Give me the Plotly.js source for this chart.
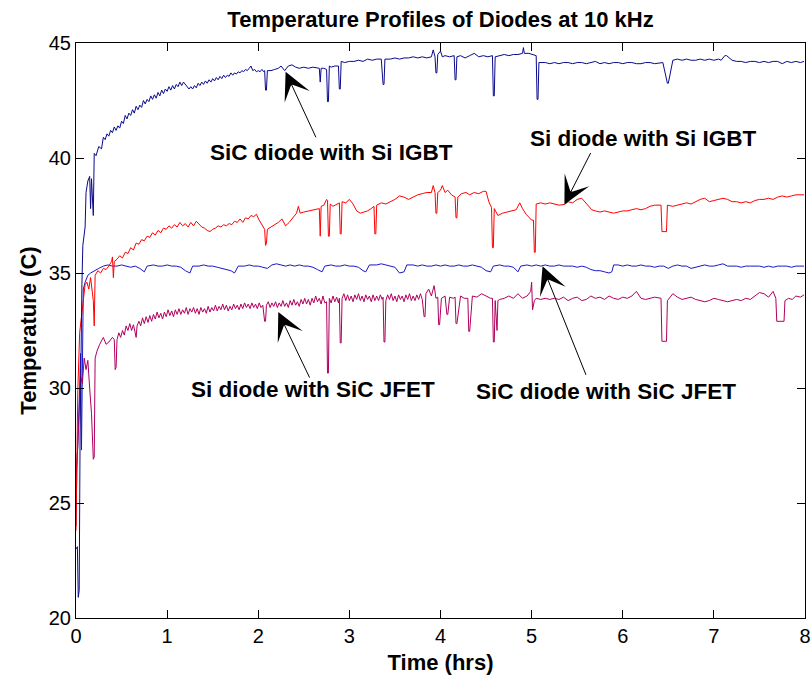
<!DOCTYPE html>
<html>
<head>
<meta charset="utf-8">
<script src="https://cdn.plot.ly/plotly-3.0.1.min.js"></script>
<style>html,body{margin:0;padding:0;background:#fff;}#chart{width:812px;height:683px;}</style>
</head>
<body>
<div id="chart"></div>
<script>
// ---- Data (time in hrs, temperature in C) ----
const sicIgbtT = [0,0.015,0.025,0.035,0.045,0.055,0.065,0.075,0.085,0.1,0.11,0.13,0.15,0.16,0.17,0.19,0.2,0.22,0.25,0.28,0.30,0.32,0.34,0.36,0.38,0.40,0.42,0.44,0.46,0.48,0.50,0.52,0.54,0.56,0.58,0.60,0.62,0.64,0.66,0.68,0.70,0.72,0.74,0.76,0.78,0.80,0.82,0.84,0.86,0.88,0.90,0.92,0.94,0.96,0.98,1.00,1.02,1.04,1.06,1.08,1.10,1.12,1.14,1.16,1.18,1.20,1.22,1.24,1.26,1.28,1.30,1.32,1.34,1.36,1.38,1.40,1.42,1.44,1.46,1.48,1.50,1.52,1.54,1.56,1.58,1.60,1.62,1.64,1.66,1.68,1.70,1.72,1.74,1.76,1.78,1.80,1.82,1.84,1.86,1.88,1.90,1.92,1.94,1.96,1.98,2.00,2.02,2.04,2.06,2.07,2.08,2.09,2.1,2.14,2.18,2.22,2.25,2.29,2.33,2.37,2.41,2.45,2.5,2.55,2.6,2.67,2.68,2.69,2.72,2.75,2.76,2.77,2.78,2.8,2.84,2.88,2.89,2.9,2.91,2.95,3.0,3.05,3.1,3.15,3.2,3.25,3.3,3.35,3.37,3.38,3.39,3.45,3.5,3.55,3.6,3.65,3.7,3.75,3.8,3.85,3.9,3.92,3.94,3.95,3.96,3.97,4.0,4.02,4.05,4.1,4.15,4.16,4.17,4.18,4.22,4.27,4.32,4.37,4.42,4.47,4.52,4.57,4.58,4.59,4.6,4.65,4.7,4.75,4.8,4.85,4.9,4.91,4.92,4.97,5.02,5.05,5.06,5.07,5.08,5.15,5.2,5.25,5.3,5.35,5.4,5.45,5.5,5.55,5.6,5.65,5.7,5.75,5.8,5.85,5.9,5.95,6.0,6.05,6.1,6.15,6.2,6.25,6.3,6.35,6.43,6.44,6.49,6.5,6.55,6.6,6.65,6.7,6.75,6.8,6.85,6.9,6.95,7.0,7.05,7.08,7.12,7.14,7.2,7.25,7.3,7.35,7.4,7.45,7.5,7.55,7.6,7.65,7.7,7.75,7.8,7.85,7.9,7.95,7.99];
const sicIgbtY = [23.0,23.1,20.9,21.2,28.0,32.0,34.5,36.2,36.6,37.0,38.5,39.0,39.2,37.8,39.1,37.5,40.2,40.1,40.5,40.4,40.9,40.8,41.05,40.95,41.2,41.1,41.35,41.2,41.4,41.3,41.6,41.5,41.85,41.7,41.95,41.85,42.1,41.95,42.25,42.1,42.3,42.2,42.5,42.35,42.55,42.45,42.7,42.55,42.75,42.6,42.85,42.7,42.95,42.8,43.0,42.9,43.1,42.95,43.15,43.0,43.2,43.1,43.3,43.15,43.3,43.2,43.1,43.0,43.1,43.0,43.15,43.05,43.25,43.15,43.3,43.2,43.35,43.25,43.4,43.3,43.45,43.35,43.5,43.4,43.55,43.45,43.6,43.5,43.6,43.55,43.7,43.6,43.7,43.65,43.75,43.7,43.8,43.75,43.85,43.8,43.9,44.0,43.8,43.85,43.75,43.8,43.75,43.85,43.75,43.8,42.95,42.95,43.8,43.8,43.85,43.9,44.0,43.8,44.0,44.05,43.95,43.9,43.95,43.9,43.95,43.9,43.3,43.9,43.9,43.85,42.45,42.45,44.0,43.95,44.0,44.0,43.0,43.0,44.2,44.15,44.2,44.2,44.25,44.2,44.3,44.25,44.3,44.3,43.2,43.2,44.3,44.3,44.35,44.3,44.35,44.35,44.4,44.35,44.4,44.35,44.4,44.7,44.4,43.7,43.7,44.5,44.65,44.4,44.45,44.4,44.45,43.4,43.4,44.4,44.45,44.35,44.45,44.55,44.4,44.45,44.4,44.45,42.7,42.7,44.4,44.45,44.5,44.45,44.5,44.5,44.55,44.8,44.55,44.55,44.5,44.45,42.55,42.55,44.15,44.15,44.1,44.15,44.1,44.15,44.15,44.1,44.15,44.15,44.1,44.15,44.2,44.1,44.15,44.1,44.15,44.15,44.1,44.15,44.15,44.1,44.1,44.15,44.15,44.1,44.15,44.15,43.25,43.25,44.25,44.3,44.25,44.3,44.25,44.25,44.3,44.25,44.3,44.25,44.3,44.25,44.45,44.45,44.25,44.2,44.2,44.15,44.2,44.2,44.15,44.2,44.15,44.2,44.2,44.1,44.2,44.15,44.2,44.15,44.2,44.2];

const siIgbtT = [0,0.01,0.02,0.04,0.06,0.08,0.1,0.12,0.14,0.16,0.19,0.2,0.21,0.24,0.27,0.3,0.33,0.36,0.39,0.4,0.41,0.42,0.45,0.48,0.51,0.54,0.57,0.60,0.63,0.66,0.69,0.72,0.75,0.78,0.81,0.84,0.87,0.90,0.93,0.96,0.99,1.02,1.05,1.08,1.11,1.14,1.17,1.20,1.23,1.26,1.29,1.32,1.35,1.38,1.41,1.44,1.47,1.50,1.53,1.56,1.59,1.62,1.65,1.68,1.71,1.74,1.77,1.80,1.83,1.86,1.89,1.92,1.95,1.98,2.01,2.04,2.07,2.08,2.09,2.1,2.14,2.18,2.22,2.26,2.3,2.34,2.38,2.42,2.44,2.46,2.5,2.55,2.6,2.67,2.68,2.69,2.72,2.75,2.76,2.77,2.78,2.79,2.82,2.86,2.89,2.9,2.91,2.92,2.96,3.0,3.04,3.08,3.12,3.16,3.2,3.24,3.27,3.28,3.29,3.3,3.35,3.4,3.45,3.5,3.55,3.6,3.65,3.7,3.75,3.8,3.85,3.9,3.92,3.94,3.95,3.96,3.97,4.0,4.02,4.05,4.08,4.12,4.16,4.17,4.18,4.19,4.23,4.28,4.32,4.37,4.42,4.47,4.5,4.53,4.56,4.57,4.58,4.59,4.63,4.68,4.73,4.78,4.83,4.87,4.9,4.94,4.98,5.0,5.02,5.03,5.04,5.05,5.1,5.15,5.2,5.25,5.3,5.36,5.4,5.45,5.5,5.55,5.58,5.62,5.66,5.7,5.75,5.8,5.85,5.9,5.95,6.0,6.05,6.1,6.15,6.2,6.25,6.3,6.35,6.42,6.43,6.48,6.49,6.55,6.6,6.65,6.7,6.75,6.8,6.85,6.9,6.95,7.0,7.05,7.1,7.15,7.2,7.25,7.3,7.35,7.4,7.45,7.5,7.55,7.6,7.65,7.7,7.75,7.8,7.85,7.9,7.99];
const siIgbtY = [23.8,26.5,29.9,32.4,33.2,34.0,34.5,34.6,34.3,34.8,33.8,32.7,34.9,35.1,35.0,35.2,35.15,35.3,35.5,35.7,34.8,35.5,35.6,35.75,35.65,35.9,35.85,36.1,36.0,36.3,36.25,36.45,36.4,36.6,36.55,36.75,36.65,36.85,36.75,36.95,36.9,37.05,36.95,37.1,37.0,37.2,37.05,37.15,37.0,37.2,37.05,37.25,37.1,37.0,36.95,36.85,36.8,36.9,36.95,37.05,37.0,37.1,37.05,37.15,37.1,37.25,37.2,37.35,37.2,37.4,37.35,37.5,37.45,37.55,37.3,37.1,36.9,36.2,36.3,36.9,37.0,37.1,37.2,37.35,37.05,37.2,37.4,37.6,37.9,37.6,37.65,37.7,37.75,37.8,36.6,37.9,37.95,38.2,38.15,36.6,36.6,38.0,37.9,38.0,38.05,36.7,36.7,38.1,38.05,38.2,38.0,37.7,37.6,37.65,37.7,37.8,37.9,36.7,36.7,37.95,38.05,38.0,38.1,38.2,38.35,38.3,38.2,38.3,38.4,38.45,38.5,38.5,38.8,38.5,37.6,37.6,38.5,38.6,38.8,38.5,38.6,38.4,38.3,37.4,37.4,38.3,38.45,38.5,38.4,38.5,38.45,38.55,38.55,38.1,37.85,36.1,36.1,37.8,37.5,37.6,37.65,37.7,37.75,38.05,37.8,37.55,37.4,37.3,37.3,35.9,35.9,38.0,38.05,38.0,38.05,38.0,37.95,37.98,38.1,38.05,38.2,38.25,38.1,37.9,37.75,37.7,37.65,37.7,37.65,37.6,37.65,37.7,37.7,37.75,37.8,37.75,37.8,37.9,37.95,37.95,36.8,36.8,37.95,37.9,37.95,38.0,38.05,38.0,38.1,38.2,38.25,38.1,38.15,38.2,38.25,38.2,38.1,38.1,38.05,38.1,38.05,38.15,38.2,38.2,38.25,38.2,38.3,38.35,38.3,38.35,38.4,38.4];

const sicJfetT = [0,0.02,0.04,0.05,0.06,0.07,0.08,0.1,0.13,0.16,0.2,0.25,0.3,0.35,0.4,0.45,0.5,0.55,0.6,0.65,0.7,0.75,0.78,0.85,0.9,0.95,1.0,1.05,1.1,1.15,1.2,1.25,1.28,1.35,1.4,1.45,1.5,1.55,1.6,1.65,1.7,1.74,1.78,1.85,1.9,1.95,2.0,2.05,2.1,2.15,2.2,2.25,2.3,2.35,2.4,2.45,2.5,2.55,2.6,2.65,2.7,2.73,2.8,2.85,2.9,2.95,3.0,3.05,3.1,3.15,3.18,3.22,3.3,3.35,3.4,3.45,3.5,3.55,3.6,3.63,3.7,3.75,3.8,3.85,3.9,3.95,4.0,4.05,4.1,4.15,4.2,4.25,4.3,4.35,4.4,4.45,4.5,4.55,4.58,4.65,4.7,4.75,4.8,4.85,4.88,4.95,5.0,5.05,5.1,5.15,5.2,5.25,5.3,5.35,5.4,5.45,5.5,5.55,5.6,5.65,5.7,5.75,5.8,5.85,5.88,5.9,5.95,6.0,6.05,6.1,6.15,6.2,6.25,6.3,6.35,6.4,6.45,6.5,6.55,6.6,6.65,6.7,6.75,6.8,6.85,6.9,6.95,7.0,7.05,7.1,7.15,7.2,7.25,7.3,7.35,7.4,7.45,7.5,7.55,7.6,7.65,7.7,7.75,7.8,7.85,7.9,7.99];
const sicJfetY = [26.0,27.5,30.0,31.5,27.3,33.0,34.3,34.6,34.9,35.0,35.1,35.2,35.3,35.35,35.3,35.3,35.35,35.3,35.25,35.3,35.2,35.05,35.3,35.35,35.3,35.3,35.35,35.3,35.3,35.25,35.1,35.0,35.3,35.3,35.35,35.3,35.3,35.25,35.2,35.15,35.1,35.0,35.3,35.3,35.35,35.3,35.3,35.25,35.2,35.35,35.4,35.35,35.3,35.35,35.3,35.35,35.3,35.3,35.25,35.15,35.05,35.3,35.35,35.3,35.3,35.35,35.3,35.3,35.25,35.1,35.05,35.35,35.35,35.4,35.35,35.3,35.25,35.0,35.05,35.35,35.35,35.3,35.35,35.3,35.3,35.35,35.3,35.35,35.3,35.3,35.35,35.3,35.3,35.35,35.3,35.25,35.1,35.05,35.3,35.35,35.3,35.3,35.25,35.05,35.3,35.35,35.3,35.35,35.3,35.35,35.3,35.3,35.35,35.3,35.3,35.3,35.25,35.3,35.25,35.15,35.1,35.1,35.05,35.0,35.05,35.35,35.35,35.3,35.35,35.3,35.3,35.35,35.3,35.3,35.25,35.3,35.3,35.2,35.3,35.35,35.3,35.3,35.2,35.25,35.3,35.35,35.3,35.3,35.35,35.4,35.3,35.3,35.3,35.25,35.3,35.3,35.3,35.3,35.25,35.3,35.25,35.3,35.3,35.3,35.25,35.3,35.3];

const siJfetT = [0,0.01,0.03,0.05,0.07,0.09,0.11,0.13,0.15,0.17,0.19,0.2,0.21,0.23,0.26,0.3,0.33,0.36,0.4,0.42,0.43,0.44,0.45,0.47,0.49,0.51,0.53,0.55,0.57,0.59,0.61,0.63,0.65,0.66,0.67,0.69,0.71,0.73,0.75,0.77,0.79,0.81,0.83,0.85,0.87,0.89,0.91,0.93,0.95,0.97,0.99,1.01,1.03,1.05,1.07,1.09,1.11,1.13,1.15,1.17,1.19,1.21,1.23,1.25,1.27,1.29,1.31,1.33,1.35,1.37,1.39,1.41,1.43,1.45,1.47,1.49,1.51,1.53,1.55,1.57,1.59,1.61,1.63,1.65,1.67,1.69,1.71,1.73,1.75,1.77,1.79,1.81,1.83,1.85,1.87,1.89,1.91,1.93,1.95,1.97,1.99,2.01,2.03,2.05,2.07,2.08,2.09,2.11,2.13,2.15,2.17,2.19,2.21,2.23,2.25,2.27,2.29,2.31,2.33,2.35,2.37,2.39,2.41,2.43,2.45,2.47,2.49,2.51,2.53,2.55,2.57,2.59,2.61,2.63,2.65,2.67,2.69,2.71,2.73,2.75,2.76,2.77,2.78,2.80,2.82,2.84,2.86,2.88,2.89,2.9,2.91,2.92,2.94,2.96,2.98,3.0,3.02,3.04,3.06,3.08,3.10,3.12,3.14,3.16,3.18,3.20,3.22,3.24,3.26,3.28,3.30,3.32,3.34,3.36,3.37,3.38,3.39,3.40,3.42,3.44,3.46,3.48,3.50,3.52,3.54,3.56,3.58,3.60,3.62,3.64,3.66,3.68,3.70,3.72,3.74,3.76,3.78,3.80,3.82,3.83,3.84,3.87,3.9,3.93,3.95,3.97,3.98,3.99,4.01,4.05,4.07,4.08,4.1,4.14,4.16,4.17,4.18,4.22,4.26,4.3,4.31,4.32,4.35,4.4,4.45,4.5,4.55,4.57,4.58,4.59,4.6,4.62,4.63,4.65,4.7,4.75,4.8,4.85,4.9,4.95,4.99,5.0,5.01,5.03,5.05,5.1,5.15,5.2,5.25,5.3,5.35,5.4,5.45,5.5,5.55,5.6,5.65,5.7,5.75,5.8,5.85,5.9,5.95,6.0,6.05,6.1,6.15,6.2,6.25,6.3,6.35,6.42,6.43,6.48,6.49,6.55,6.6,6.65,6.7,6.75,6.8,6.85,6.9,6.95,7.0,7.05,7.1,7.15,7.2,7.25,7.3,7.35,7.4,7.45,7.5,7.55,7.6,7.65,7.68,7.69,7.77,7.78,7.82,7.86,7.9,7.95,7.99];
const siJfetY = [24.0,26.7,28.5,30.5,30.2,31.3,30.8,31.2,30.0,28.9,26.9,27.0,31.3,31.6,31.9,32.2,31.9,32.0,32.2,32.1,30.8,30.9,32.1,32.4,32.2,32.5,32.3,32.7,32.5,32.8,32.5,32.75,32.4,32.2,32.7,32.9,32.7,33.05,32.8,33.1,32.85,33.15,32.9,33.2,33.0,33.3,33.05,33.25,33.0,33.3,33.1,33.4,33.15,33.35,33.1,33.4,33.2,33.45,33.2,33.4,33.25,33.5,33.2,33.45,33.3,33.5,33.25,33.45,33.2,33.5,33.3,33.45,33.25,33.55,33.3,33.5,33.35,33.6,33.35,33.55,33.4,33.65,33.4,33.6,33.35,33.55,33.4,33.65,33.45,33.6,33.4,33.65,33.45,33.7,33.5,33.65,33.45,33.7,33.5,33.65,33.45,33.7,33.5,33.6,32.9,32.9,33.6,33.75,33.5,33.7,33.55,33.75,33.5,33.7,33.55,33.8,33.55,33.7,33.5,33.8,33.6,33.85,33.6,33.75,33.55,33.85,33.65,33.9,33.65,33.85,33.6,33.9,33.7,34.0,33.75,33.9,33.65,34.0,33.7,33.75,30.65,30.65,33.9,33.7,34.0,33.75,33.95,33.7,33.9,31.96,31.96,33.9,34.1,33.8,34.05,33.8,34.0,33.75,34.05,33.85,34.1,33.8,34.0,33.75,34.05,33.85,34.0,33.75,34.05,33.8,34.0,33.8,34.05,33.85,33.95,32.0,32.0,33.8,34.05,33.85,34.1,33.8,34.0,33.75,34.05,33.85,34.0,33.75,34.05,33.85,34.1,33.8,34.0,33.8,34.05,33.85,34.1,33.85,33.1,33.1,34.1,34.3,34.0,34.45,33.9,33.95,32.75,32.75,33.9,34.0,33.2,33.2,33.95,33.9,33.95,32.8,32.8,34.0,33.9,33.9,32.46,32.46,34.0,33.95,34.1,34.0,33.9,33.9,32.0,32.0,33.8,32.5,33.8,33.85,33.9,34.0,33.9,34.1,33.9,34.0,34.2,34.6,33.4,33.8,33.9,33.85,33.9,33.85,33.9,33.85,33.95,33.8,33.9,33.95,33.8,33.85,34.0,33.9,33.95,33.85,34.0,33.9,33.85,33.95,33.9,34.0,34.2,33.9,33.85,33.9,33.95,33.9,32.03,32.03,33.8,34.1,33.95,33.85,33.9,33.95,33.85,33.8,33.75,33.8,33.9,33.85,33.8,33.75,33.8,33.85,33.8,33.9,33.85,34.0,34.15,34.1,33.95,34.2,33.9,32.9,32.9,33.8,33.9,33.85,34.0,33.95,34.05];

const xTicks = [0,1,2,3,4,5,6,7,8];
const yTicks = [20,25,30,35,40,45];

const labels = ["SiC diode with Si IGBT", "Si diode with Si IGBT", "SiC diode with SiC JFET", "Si diode with SiC JFET"];

const traces = [
  {x: sicJfetT, y: sicJfetY, mode: 'lines', line: {color: '#1818C8', width: 1}, name: labels[2]},
  {x: siJfetT, y: siJfetY, mode: 'lines', line: {color: '#B0005E', width: 1}, name: labels[3]},
  {x: siIgbtT, y: siIgbtY, mode: 'lines', line: {color: '#FF0000', width: 1}, name: labels[1]},
  {x: sicIgbtT, y: sicIgbtY, mode: 'lines', line: {color: '#0A0A8C', width: 1}, name: labels[0]}
];

const F = 'Liberation Sans, Arial, Helvetica, sans-serif';
function arrow(x, y, ax, ay) {
  return {x: x, y: y, xref: 'x', yref: 'y', text: '', showarrow: true, ax: ax, ay: ay,
    arrowhead: 3, arrowsize: 4.6, arrowwidth: 1, arrowcolor: '#000', standoff: 0};
}
function label(x, y, t) {
  return {x: x, y: y, xref: 'x', yref: 'y', text: '<b>' + t + '</b>', showarrow: false,
    font: {family: F, size: 22.5, color: '#000'}, xanchor: 'center', yanchor: 'middle'};
}

const layout = {
  width: 812, height: 683,
  margin: {l: 76, r: 7, t: 43, b: 65},
  paper_bgcolor: '#fff', plot_bgcolor: '#fff',
  showlegend: false,
  font: {family: F, color: '#000'},
  title: {text: '<b>Temperature Profiles of Diodes at 10 kHz</b>', font: {family: F, size: 22, color: '#000'},
    x: 0.5, xref: 'paper', xanchor: 'center', y: 0.972, yref: 'container', yanchor: 'middle'},
  xaxis: {range: [0, 8], tickvals: xTicks, ticks: 'inside', ticklen: 8, tickcolor: '#000',
    showline: true, linecolor: '#000', linewidth: 1, mirror: 'ticks', showgrid: false, zeroline: false,
    tickfont: {family: F, size: 20, color: '#000'},
    title: {text: '<b>Time (hrs)</b>', font: {family: F, size: 22, color: '#000'}, standoff: 8}},
  yaxis: {range: [20, 45], tickvals: yTicks, ticks: 'inside', ticklen: 8, tickcolor: '#000',
    showline: true, linecolor: '#000', linewidth: 1, mirror: 'ticks', showgrid: false, zeroline: false,
    tickfont: {family: F, size: 20, color: '#000'},
    title: {text: '<b>Temperature (C)</b>', font: {family: F, size: 22, color: '#000'}, standoff: 6}},
  annotations: [
    arrow(2.30, 43.75, 31, 67),
    arrow(5.36, 37.98, 27, -53),
    arrow(5.12, 35.29, 44, 110),
    arrow(2.22, 33.3, 32, 67),
    label(2.806, 40.25, labels[0]),
    label(6.223, 40.84, labels[1]),
    label(5.82, 29.84, labels[2]),
    label(2.60, 29.93, labels[3])
  ]
};

Plotly.newPlot('chart', traces, layout, {staticPlot: true, displayModeBar: false});
</script>
</body>
</html>
